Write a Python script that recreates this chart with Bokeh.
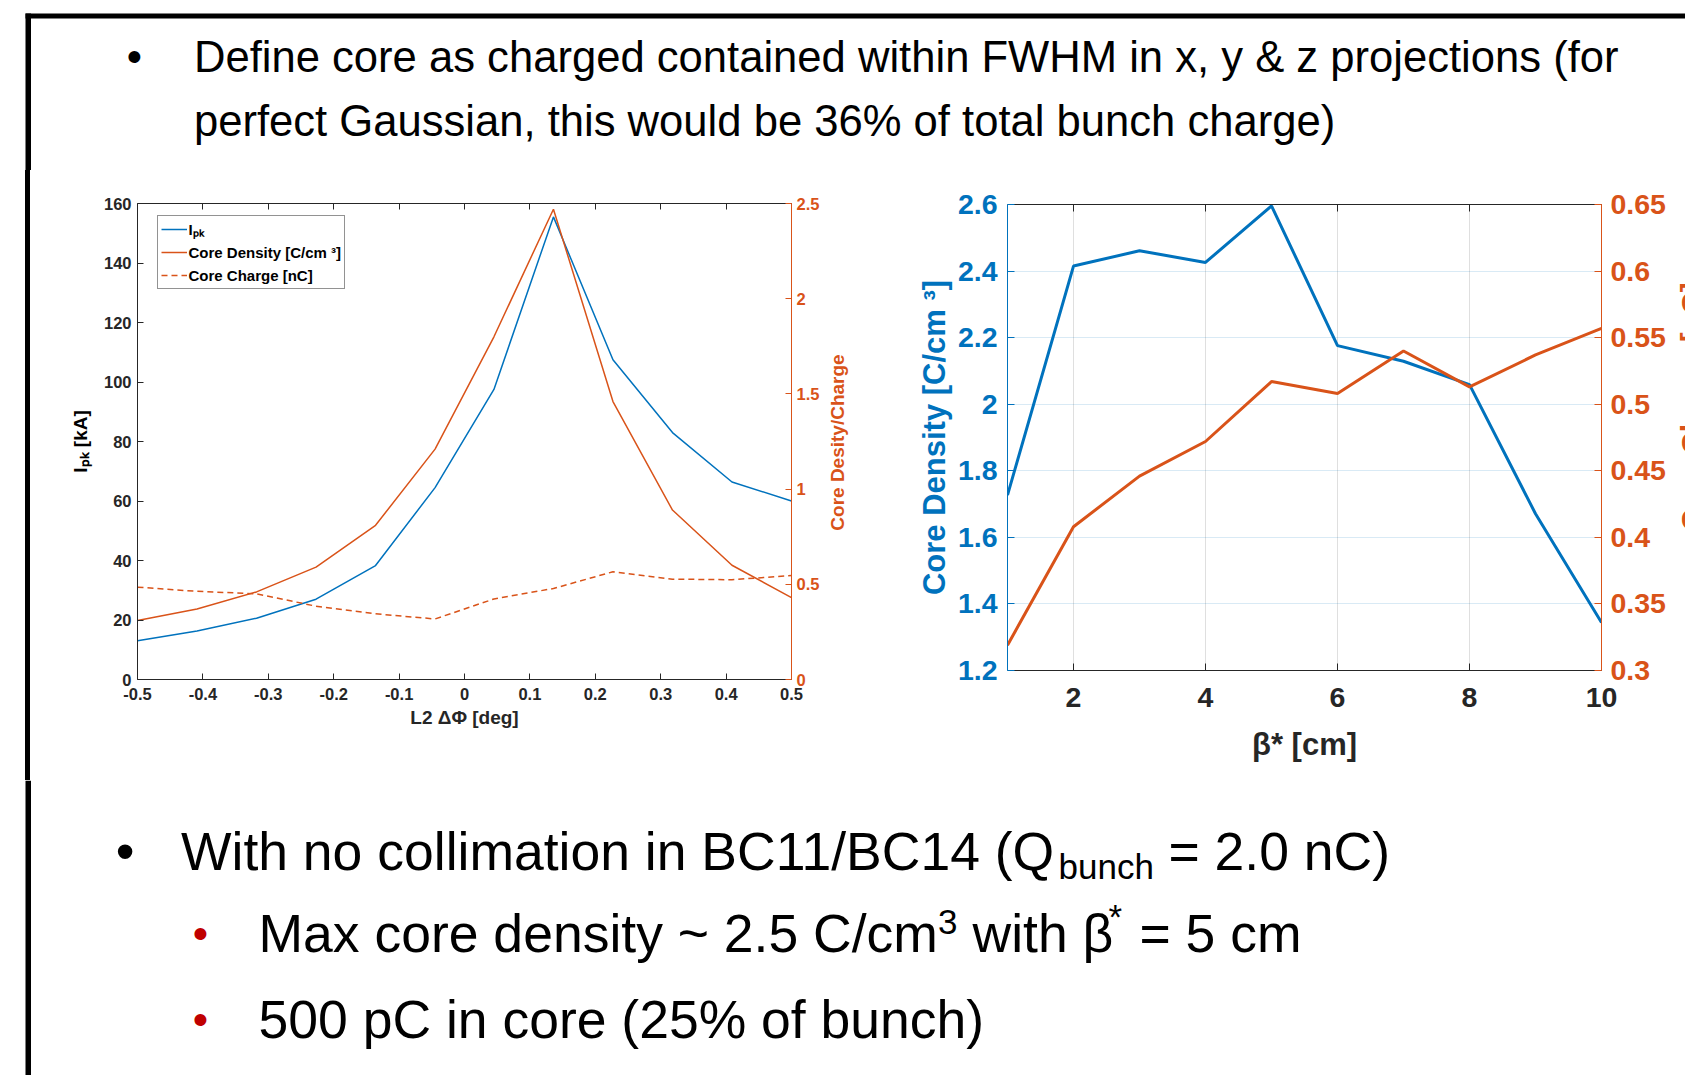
import math
from bokeh.plotting import figure
from bokeh.models import (Range1d, LinearAxis, FixedTicker, CustomJSTickFormatter,
                          Legend, LegendItem, Div)
from bokeh.layouts import row, column
from bokeh.embed import file_html
from bokeh.resources import INLINE
from bokeh.core.properties import value

# ---------------- data ----------------
# left chart: L2 phase scan
phase = [-0.5, -0.409, -0.318, -0.227, -0.136, -0.045, 0.045, 0.136, 0.227, 0.318, 0.409, 0.5]
ipk = [13.0, 16.3, 20.6, 27.0, 38.3, 64.5, 97.5, 155.5, 107.5, 83.0, 66.4, 60.0]
core_density_phase = [0.31, 0.37, 0.46, 0.59, 0.81, 1.21, 1.80, 2.47, 1.46, 0.89, 0.60, 0.43]
core_charge_phase = [0.485, 0.463, 0.45, 0.385, 0.345, 0.318, 0.423, 0.478, 0.566, 0.527, 0.524, 0.546]

# right chart: beta* scan
beta = [1, 2, 3, 4, 5, 6, 7, 8, 9, 10]
core_density_beta = [1.727, 2.415, 2.461, 2.426, 2.596, 2.176, 2.129, 2.059, 1.671, 1.344]
core_charge_beta = [0.319, 0.408, 0.446, 0.472, 0.517, 0.508, 0.540, 0.513, 0.537, 0.557]

# ticks
left_x_ticks = [-0.5, -0.4, -0.3, -0.2, -0.1, 0, 0.1, 0.2, 0.3, 0.4, 0.5]
left_y_ticks = [0, 20, 40, 60, 80, 100, 120, 140, 160]
left_y2_ticks = [0, 0.5, 1, 1.5, 2, 2.5]
right_x_ticks = [2, 4, 6, 8, 10]
right_y_ticks = [1.2, 1.4, 1.6, 1.8, 2.0, 2.2, 2.4, 2.6]
right_y2_ticks = [0.3, 0.35, 0.4, 0.45, 0.5, 0.55, 0.6, 0.65]

# texts
top_lines = ["Define core as charged contained within FWHM in x, y & z projections (for",
             "perfect Gaussian, this would be 36% of total bunch charge)"]

BLUE = "#0072BD"
ORANGE = "#D95319"
DARK = "#262626"
FONT = "Liberation Sans"

num_fmt = CustomJSTickFormatter(code="return String(Math.round(tick*1000)/1000);")
blank_fmt = CustomJSTickFormatter(code="return '';")


def style_axis(ax, ticks, color, size, standoff, label_color=None, label_size=None,
               label_standoff=None, blank=False, tick_len=6):
    ax.ticker = FixedTicker(ticks=ticks)
    ax.formatter = blank_fmt if blank else num_fmt
    ax.major_tick_in = tick_len
    ax.major_tick_out = 0
    ax.minor_tick_line_color = None
    ax.axis_line_color = color
    ax.major_tick_line_color = color
    ax.axis_line_width = 1
    ax.major_label_text_color = color
    ax.major_label_text_font = FONT
    ax.major_label_text_font_style = "bold"
    ax.major_label_text_font_size = size
    ax.major_label_standoff = standoff
    ax.axis_label_text_font = FONT
    ax.axis_label_text_font_style = "bold"
    if label_color is not None:
        ax.axis_label_text_color = label_color
    if label_size is not None:
        ax.axis_label_text_font_size = label_size
    if label_standoff is not None:
        ax.axis_label_standoff = label_standoff


def blank_fig(w, h, flip=True):
    yr = Range1d(h, 0) if flip else Range1d(0, h)
    p = figure(width=w, height=h, x_range=Range1d(0, w), y_range=yr,
               output_backend="svg", toolbar_location=None, min_border=0,
               x_axis_type=None, y_axis_type=None)
    p.grid.visible = False
    p.outline_line_color = None
    p.background_fill_color = "white"
    p.border_fill_color = "white"
    return p


def txt(p, x, y, s, size, color="black", align="left"):
    # y is the wanted baseline; compensate the renderer's baseline offset
    p.text(x=[x], y=[y - 0.395 * size], text=[s], text_font=value(FONT),
           text_font_size=f"{size}px", text_color=color, text_baseline="alphabetic",
           text_align=align)


def vlabel(p, x, y, s, size, color):
    # vertical title reading bottom-to-top; x is where the text box top lies
    p.text(x=[x], y=[y], text=[s], angle=math.pi / 2, text_align="center",
           text_baseline="top", text_font=value(FONT), text_font_style="bold",
           text_font_size=f"{size}px", text_color=color)


# ---------------- top slide text ----------------
top = blank_fig(1685, 170)
top.quad(left=[25], right=[1685], top=[13], bottom=[18], color="black", line_color=None)
top.quad(left=[25], right=[30.5], top=[13], bottom=[170], color="black", line_color=None)
txt(top, 134, 74, "•", 43.6, align="center")
txt(top, 193.4, 74, top_lines[0], 43.6)
txt(top, 193.4, 138, top_lines[1], 43.6)

# ---------------- middle: border strip ----------------
strip = Div(text="", width=60, height=610, margin=0,
            styles={"background": "linear-gradient(to right, #fff 25px, #000 25px, #000 30.5px, #fff 30.5px)"})

# ---------------- left chart ----------------
pL = figure(width=762, height=610, x_range=Range1d(-0.5, 0.5), y_range=Range1d(0, 160),
            output_backend="svg", toolbar_location=None,
            min_border_left=77, min_border_right=29, min_border_top=33, min_border_bottom=101)
pL.extra_y_ranges = {"r": Range1d(0, 2.5)}
pL.grid.visible = False
pL.outline_line_color = None

r1 = pL.line(phase, ipk, color=BLUE, line_width=1.5)
r2 = pL.line(phase, core_density_phase, color=ORANGE, line_width=1.5, y_range_name="r")
r3 = pL.line(phase, core_charge_phase, color=ORANGE, line_width=1.5, line_dash="6 4",
             y_range_name="r")

style_axis(pL.xaxis[0], left_x_ticks, DARK, "16.5px", 8, label_color=DARK, label_size="19px",
           label_standoff=4)
pL.xaxis[0].axis_label = "L2 ΔΦ [deg]"
style_axis(pL.yaxis[0], left_y_ticks, DARK, "16.5px", 6, label_color="black", label_size="19px",
           label_standoff=10)
pL.yaxis[0].axis_label = "Iₚₖ [kA]"

axR = LinearAxis(y_range_name="r")
style_axis(axR, left_y2_ticks, ORANGE, "16.5px", 5)
pL.add_layout(axR, "right")
axT = LinearAxis()
style_axis(axT, left_x_ticks, DARK, "1px", 0, blank=True)
pL.add_layout(axT, "above")

leg = Legend(items=[LegendItem(label="Iₚₖ", renderers=[r1]),
                    LegendItem(label="Core Density [C/cm ³]", renderers=[r2]),
                    LegendItem(label="Core Charge [nC]", renderers=[r3])],
             location=(19.5, 390))
leg.label_text_font = FONT
leg.label_text_font_style = "bold"
leg.label_text_font_size = "15px"
leg.label_text_color = "black"
leg.border_line_color = DARK
leg.border_line_width = 1
leg.padding = 3
leg.spacing = 3
leg.margin = 0
leg.label_height = 20
leg.glyph_height = 20
leg.glyph_width = 26
leg.label_standoff = 2
leg.background_fill_color = "white"
pL.add_layout(leg)

# right-axis title of the phase chart
labL = blank_fig(58, 610, flip=False)
vlabel(labL, 4, 338, "Core Desity/Charge", 19, ORANGE)

# ---------------- right chart ----------------
pR = figure(width=795, height=610, x_range=Range1d(1, 10), y_range=Range1d(1.2, 2.6),
            output_backend="svg", toolbar_location=None,
            min_border_left=127, min_border_right=74, min_border_top=34, min_border_bottom=110)
pR.extra_y_ranges = {"r": Range1d(0.3, 0.65)}
pR.outline_line_color = None
pR.xgrid[0].ticker = FixedTicker(ticks=right_x_ticks)
pR.ygrid[0].ticker = FixedTicker(ticks=right_y_ticks)
pR.xgrid[0].grid_line_color = DARK
pR.xgrid[0].grid_line_alpha = 0.15
pR.ygrid[0].grid_line_color = BLUE
pR.ygrid[0].grid_line_alpha = 0.15

pR.line(beta, core_density_beta, color=BLUE, line_width=3)
pR.line(beta, core_charge_beta, color=ORANGE, line_width=3, y_range_name="r")

style_axis(pR.xaxis[0], right_x_ticks, DARK, "28.5px", 17, label_color=DARK, label_size="31px",
           label_standoff=17, tick_len=7)
pR.xaxis[0].axis_label = "β* [cm]"
style_axis(pR.yaxis[0], right_y_ticks, BLUE, "28.5px", 10, label_color=BLUE, label_size="31px",
           label_standoff=3, tick_len=7)
pR.yaxis[0].axis_label = "Core Density [C/cm ³]"

axR2 = LinearAxis(y_range_name="r")
style_axis(axR2, right_y2_ticks, ORANGE, "28.5px", 9, tick_len=7)
pR.add_layout(axR2, "right")
axT2 = LinearAxis()
style_axis(axT2, right_x_ticks, DARK, "1px", 0, blank=True, tick_len=7)
pR.add_layout(axT2, "above")

# right-axis title of the beta* chart, cut by the slide edge as in the original
edge = blank_fig(10, 610, flip=False)
vlabel(edge, -0.5, 374, "Core Charge [nC]", 30, ORANGE)

# ---------------- bottom slide text ----------------
bot = blank_fig(1685, 295)
bot.quad(left=[25], right=[30.5], top=[0], bottom=[295], color="black", line_color=None)
txt(bot, 124.7, 92, "•", 53.5, align="center")
txt(bot, 180.5, 92, "With no collimation in BC11/BC14 (Q", 53.5)
txt(bot, 1058, 100, "bunch", 35)
txt(bot, 1168, 92, "= 2.0 nC)", 53.5)

txt(bot, 200, 170, "•", 44, color="#C00000", align="center")
txt(bot, 258, 174, "Max core density ~ 2.5 C/cm", 53.5)
txt(bot, 937.5, 155, "3", 35)
txt(bot, 972, 174, "with β", 53.5)
txt(bot, 1108, 150, "*", 35)
txt(bot, 1139, 174, "= 5 cm", 53.5)

txt(bot, 200, 256, "•", 44, color="#C00000", align="center")
txt(bot, 258, 260, "500 pC in core (25% of bunch)", 53.5)

layout = column(top, row(strip, column(pL), column(labL), column(pR), column(edge)), bot)
open("out.html", "w").write(file_html(layout, INLINE))
